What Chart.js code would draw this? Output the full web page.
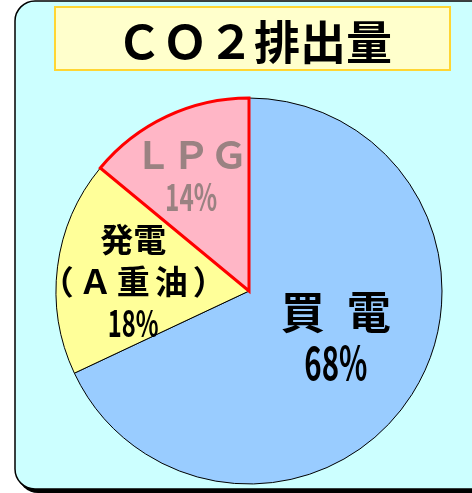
<!DOCTYPE html>
<html>
<head>
<meta charset="utf-8">
<script src="https://cdn.jsdelivr.net/npm/chart.js@4.4.0/dist/chart.umd.min.js"></script>
<style>
  html, body { margin: 0; padding: 0; background: #ffffff; }
  #wrap { position: relative; width: 472px; height: 493px; }
</style>
</head>
<body>
<div id="wrap"><canvas id="pie" width="472" height="493"></canvas></div>
<script>
/* ---------- data ---------- */
const TITLE      = 'ＣＯ２排出量';
const CATEGORIES = ['買電', '発電（Ａ重油）', 'ＬＰＧ'];
const VALUES     = [68, 18, 14];
const LABEL_LINES = [
  ['買\u2002電'],
  ['発電', '（Ａ重油）'],
  ['ＬＰＧ'],
];

/* ---------- styles ---------- */
const FILLS   = ['#99CCFF', '#FFFF99', '#FFB6C6'];
const BORDERS = ['#000000', '#000000', '#FF0000'];
const BWIDTHS = [1, 1, 3];
const TEXT_COLORS = ['#000000', '#000000', '#9A8282'];
const CJK = "'Noto Sans CJK JP', 'Noto Sans CJK SC', sans-serif";
// label block placement, in units of the pie radius from its centre
const LABEL_POS = [
  { dx: 0.45, dy: 0.24, name: 44, pct: 46, gap: 50, spacing: [0] },
  { dx: -0.60, dy: -0.05, name: 33, pct: 37, gap: 42, spacing: [0, 5] },
  { dx: -0.30, dy: -0.60, name: 38, pct: 38, gap: 42, spacing: [0] },
];

function roundRect(ctx, x, y, w, h, r) {
  ctx.beginPath();
  ctx.moveTo(x + r, y);
  ctx.lineTo(x + w - r, y);
  ctx.arcTo(x + w, y, x + w, y + r, r);
  ctx.lineTo(x + w, y + h - r);
  ctx.arcTo(x + w, y + h, x + w - r, y + h, r);
  ctx.lineTo(x + r, y + h);
  ctx.arcTo(x, y + h, x, y + h - r, r);
  ctx.lineTo(x, y + r);
  ctx.arcTo(x, y, x + r, y, r);
  ctx.closePath();
}

/* panel + title box behind the pie */
const panelPlugin = {
  id: 'panel',
  beforeDraw(chart) {
    const ctx = chart.ctx;
    ctx.save();
    // shadow
    roundRect(ctx, 18, 4, 490, 489, 20);
    ctx.fillStyle = '#000000';
    ctx.fill();
    roundRect(ctx, 15, 1, 490, 488, 20);
    ctx.fillStyle = '#CCFFFF';
    ctx.fill();
    ctx.lineWidth = 1.5;
    ctx.strokeStyle = '#000000';
    ctx.stroke();

    // title box
    ctx.fillStyle = '#FFFFCC';
    ctx.fillRect(55, 7, 395, 63);
    ctx.lineWidth = 2;
    ctx.strokeStyle = '#FFD633';
    ctx.strokeRect(55, 7, 395, 63);

    ctx.fillStyle = '#000000';
    ctx.font = "bold 46px " + CJK;
    ctx.textAlign = 'center';
    ctx.textBaseline = 'middle';
    ctx.fillText(TITLE, 254, 42);
    ctx.restore();
  }
};

/* slice labels */
const labelPlugin = {
  id: 'sliceLabels',
  afterDatasetsDraw(chart) {
    const ctx = chart.ctx;
    const arcs = chart.getDatasetMeta(0).data;
    ctx.save();
    ctx.textAlign = 'center';
    ctx.textBaseline = 'middle';
    arcs.forEach((arc, i) => {
      const p = LABEL_POS[i];
      const r = arc.outerRadius;
      const cx = arc.x + p.dx * r;
      const cy = arc.y + p.dy * r;
      const lines = LABEL_LINES[i];
      const total = lines.length + 1;
      let y = cy - (total - 1) * p.gap / 2;
      ctx.fillStyle = TEXT_COLORS[i];
      lines.forEach((t, j) => {
        const sp = p.spacing[j] || 0;
        ctx.font = "bold " + p.name + "px " + CJK;
        ctx.letterSpacing = sp + 'px';
        ctx.fillText(t, cx + sp / 2, y);
        ctx.letterSpacing = '0px';
        y += p.gap;
      });
      // condensed percentage
      ctx.save();
      ctx.translate(cx, y);
      ctx.scale(0.64, 1);
      ctx.font = "bold " + p.pct + "px " + CJK;
      ctx.fillText(VALUES[i] + '%', 0, 0);
      ctx.restore();
    });
    ctx.restore();
  }
};

new Chart(document.getElementById('pie').getContext('2d'), {
  type: 'pie',
  data: {
    labels: CATEGORIES,
    datasets: [{
      data: VALUES,
      backgroundColor: FILLS,
      borderColor: BORDERS,
      borderWidth: BWIDTHS,
      borderJoinStyle: 'miter',
    }],
  },
  options: {
    responsive: false,
    animation: false,
    radius: 193,
    layout: { padding: { left: 36, right: 10, top: 95, bottom: 6 } },
    plugins: {
      legend: { display: false },
      tooltip: { enabled: false },
    },
  },
  plugins: [panelPlugin, labelPlugin],
});
</script>
</body>
</html>
